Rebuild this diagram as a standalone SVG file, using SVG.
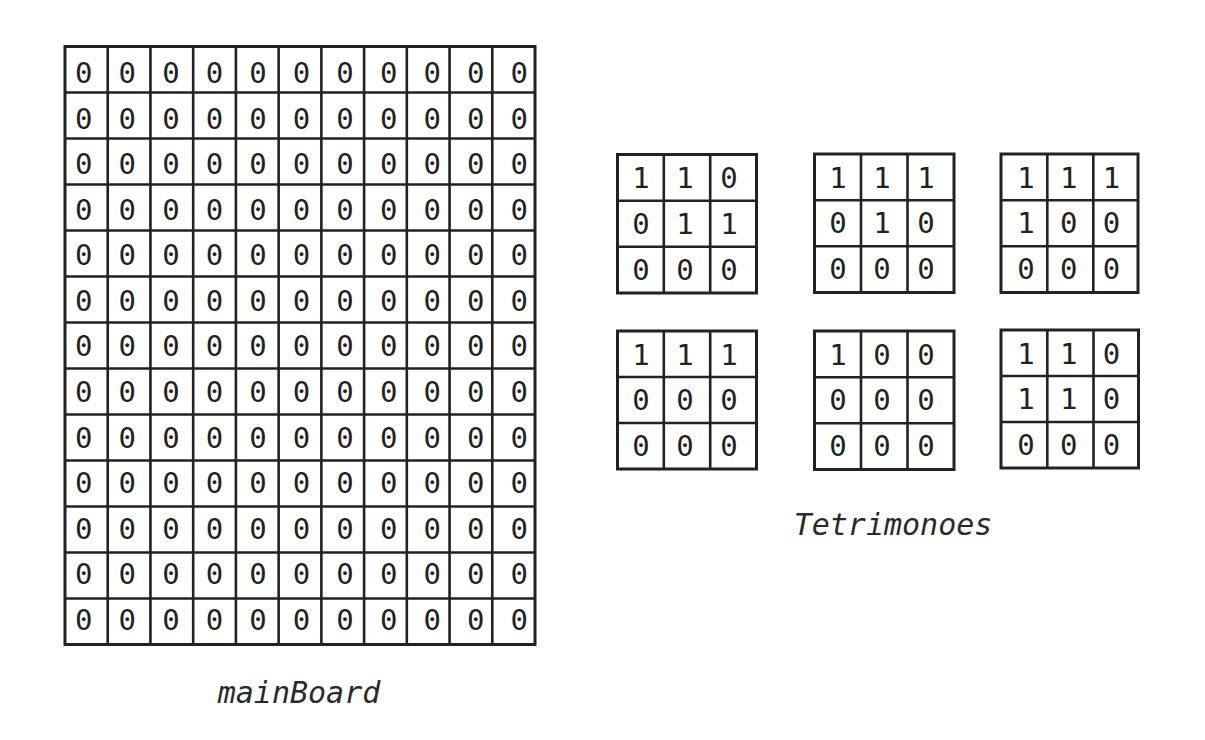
<svg xmlns="http://www.w3.org/2000/svg" width="1205" height="740" viewBox="0 0 1205 740">
<style>
.grid{fill:none;stroke:#222;stroke-width:2.6}
.outer{fill:#fff;stroke:#222;stroke-width:3}
.d{font-family:"DejaVu Sans Mono","Liberation Mono",monospace;font-size:29px;fill:#222;text-anchor:middle}
.lbl{font-family:"DejaVu Sans Mono","Liberation Mono",monospace;font-style:italic;font-size:30px;fill:#2a2a2a;text-anchor:middle}
</style>
<rect width="1205" height="740" fill="#fff"/>
<g id="mainBoard">
<rect class="outer" x="65" y="46.5" width="470" height="598"/>
<path class="grid" d="M107.73,46.5V644.5M150.45,46.5V644.5M193.18,46.5V644.5M235.91,46.5V644.5M278.64,46.5V644.5M321.36,46.5V644.5M364.09,46.5V644.5M406.82,46.5V644.5M449.55,46.5V644.5M492.27,46.5V644.5M65,92.5H535M65,138.5H535M65,184.5H535M65,230.5H535M65,276.5H535M65,322.5H535M65,368.5H535M65,414.5H535M65,460.5H535M65,506.5H535M65,552.5H535M65,598.5H535"/>
<g class="d">
<text x="83.8 127.35 170.9 214.45 258 301.55 345.1 388.65 432.2 475.75 519.3" y="83">00000000000</text>
<text x="83.8 127.35 170.9 214.45 258 301.55 345.1 388.65 432.2 475.75 519.3" y="128.6">00000000000</text>
<text x="83.8 127.35 170.9 214.45 258 301.55 345.1 388.65 432.2 475.75 519.3" y="174.1">00000000000</text>
<text x="83.8 127.35 170.9 214.45 258 301.55 345.1 388.65 432.2 475.75 519.3" y="219.7">00000000000</text>
<text x="83.8 127.35 170.9 214.45 258 301.55 345.1 388.65 432.2 475.75 519.3" y="265.2">00000000000</text>
<text x="83.8 127.35 170.9 214.45 258 301.55 345.1 388.65 432.2 475.75 519.3" y="310.8">00000000000</text>
<text x="83.8 127.35 170.9 214.45 258 301.55 345.1 388.65 432.2 475.75 519.3" y="356.4">00000000000</text>
<text x="83.8 127.35 170.9 214.45 258 301.55 345.1 388.65 432.2 475.75 519.3" y="401.9">00000000000</text>
<text x="83.8 127.35 170.9 214.45 258 301.55 345.1 388.65 432.2 475.75 519.3" y="447.5">00000000000</text>
<text x="83.8 127.35 170.9 214.45 258 301.55 345.1 388.65 432.2 475.75 519.3" y="493">00000000000</text>
<text x="83.8 127.35 170.9 214.45 258 301.55 345.1 388.65 432.2 475.75 519.3" y="538.6">00000000000</text>
<text x="83.8 127.35 170.9 214.45 258 301.55 345.1 388.65 432.2 475.75 519.3" y="584.2">00000000000</text>
<text x="83.8 127.35 170.9 214.45 258 301.55 345.1 388.65 432.2 475.75 519.3" y="629.7">00000000000</text>
</g>
<text class="lbl" x="299" y="703">mainBoard</text>
</g>
<g id="tetrimino1" transform="translate(617.5,154.5)">
<rect class="outer" width="139" height="138.5"/>
<path class="grid" d="M46.3,0V138.5M92.7,0V138.5M0,46.2H139M0,92.3H139"/>
<g class="d"><text x="23.6 67.6 111.6" y="33.7">110</text><text x="23.6 67.6 111.6" y="79.3">011</text><text x="23.6 67.6 111.6" y="125">000</text></g>
</g>
<g id="tetrimino2" transform="translate(814.5,154)">
<rect class="outer" width="139.5" height="138.5"/>
<path class="grid" d="M46.5,0V138.5M93,0V138.5M0,46.2H139.5M0,92.3H139.5"/>
<g class="d"><text x="23.6 67.6 111.6" y="33.7">111</text><text x="23.6 67.6 111.6" y="79.3">010</text><text x="23.6 67.6 111.6" y="125">000</text></g>
</g>
<g id="tetrimino3" transform="translate(1001,154)">
<rect class="outer" width="137" height="138.5"/>
<path class="grid" d="M46.3,0V138.5M92.3,0V138.5M0,46.2H137M0,92.3H137"/>
<g class="d"><text x="25 67.7 110.4" y="33.7">111</text><text x="25 67.7 110.4" y="79.3">100</text><text x="25 67.7 110.4" y="125">000</text></g>
</g>
<g id="tetrimino4" transform="translate(617.5,331)">
<rect class="outer" width="139" height="138"/>
<path class="grid" d="M46.3,0V138M92.7,0V138M0,46H139M0,92H139"/>
<g class="d"><text x="23.6 67.6 111.6" y="33.5">111</text><text x="23.6 67.6 111.6" y="79">000</text><text x="23.6 67.6 111.6" y="124.7">000</text></g>
</g>
<g id="tetrimino5" transform="translate(814.5,331)">
<rect class="outer" width="139.5" height="138.5"/>
<path class="grid" d="M46.5,0V138.5M93,0V138.5M0,46.2H139.5M0,92.3H139.5"/>
<g class="d"><text x="23.6 67.6 111.6" y="33.7">100</text><text x="23.6 67.6 111.6" y="79.3">000</text><text x="23.6 67.6 111.6" y="125">000</text></g>
</g>
<g id="tetrimino6" transform="translate(1001,330)">
<rect class="outer" width="137.5" height="138"/>
<path class="grid" d="M46.3,0V138M92.5,0V138M0,46H137.5M0,92H137.5"/>
<g class="d"><text x="25 67.7 110.4" y="33.5">110</text><text x="25 67.7 110.4" y="79">110</text><text x="25 67.7 110.4" y="124.7">000</text></g>
</g>
<text class="lbl" x="893" y="535">Tetrimonoes</text>
<g id="connectors"/>
</svg>
